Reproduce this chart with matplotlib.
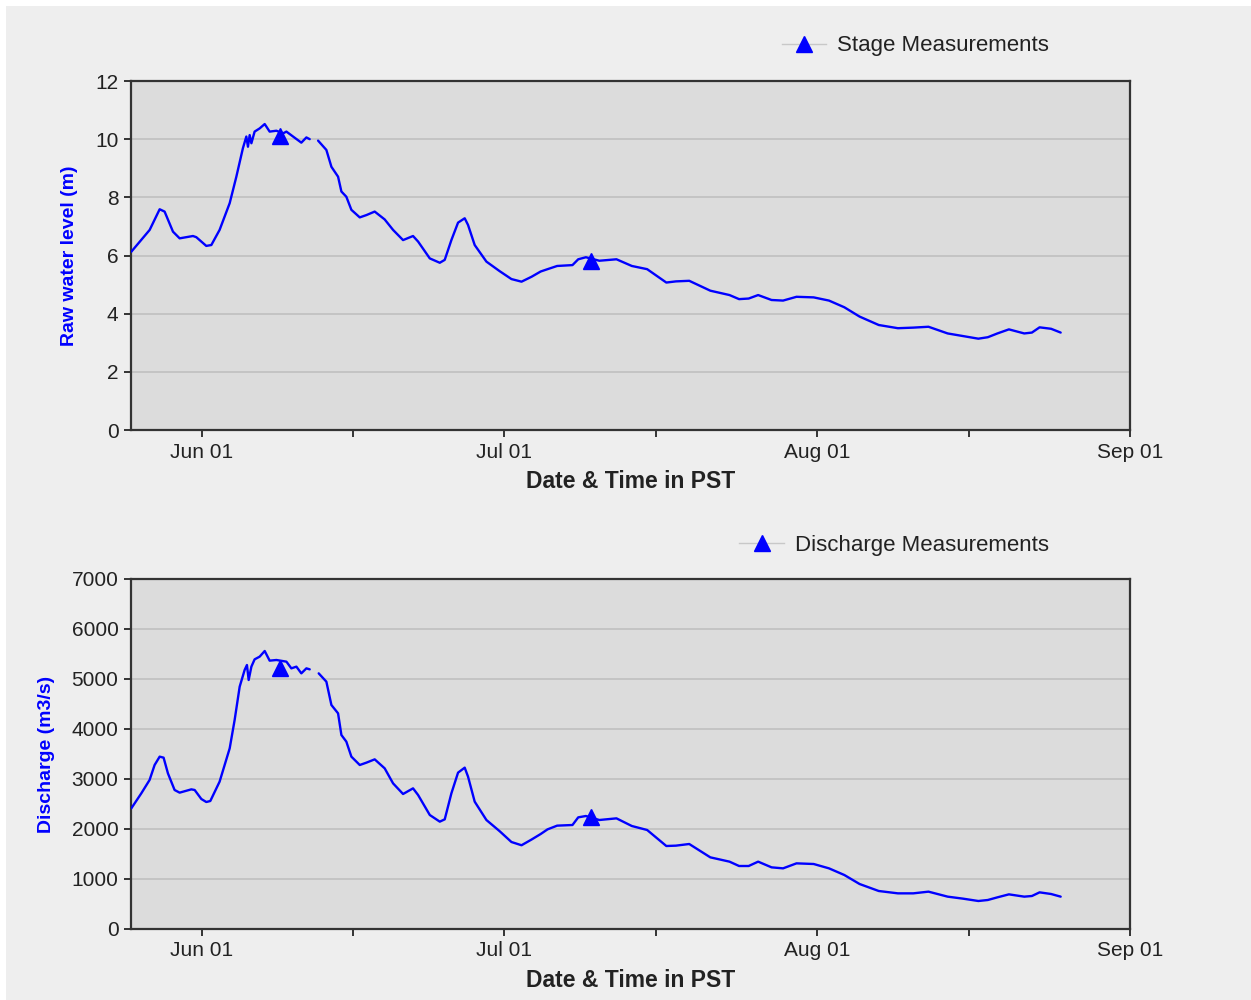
import numpy as np
import pandas as pd
import matplotlib
matplotlib.use("Agg")
import matplotlib.pyplot as plt
import matplotlib.dates as mdates
from matplotlib.lines import Line2D
from matplotlib.patches import Rectangle

plt.rcParams['font.family'] = ['Liberation Sans', 'DejaVu Sans']

# hydrometric record, time in days after Jun 01 (PST)
base_date = pd.Timestamp('2012-06-01')

stage_days = [-6.97, -5.15, -4.16, -3.67, -2.84, -2.18, -0.86, -0.53, 0.46, 0.96,
              1.78, 2.78, 3.44, 4.09, 4.43, 4.59, 4.76, 4.93, 5.25, 5.75,
              6.25, 6.74, 7.41, 8.07, 8.40, 9.06, 9.88, 10.38, 10.71, 11.1,
              11.54, 12.36, 12.86, 13.52, 13.85, 14.34, 14.84, 15.67, 16.33, 17.15,
              18.14, 18.97, 19.96, 20.95, 21.45, 22.61, 23.6, 24.09, 24.75, 25.41,
              26.07, 26.4, 27.06, 28.22, 29.54, 30.7, 31.7, 32.7, 33.6, 34.28,
              35.23, 36.75, 37.32, 38.08, 39.41, 41.11, 42.63, 44.15, 46.05, 47.0,
              48.32, 50.41, 52.31, 53.26, 54.21, 55.15, 56.48, 57.62, 58.95, 60.65,
              62.17, 63.69, 65.2, 67.1, 69.0, 70.52, 72.03, 73.93, 75.45, 76.97,
              77.91, 78.86, 80.0, 81.52, 82.28, 83.04, 84.18, 85.13]
stage_level = [6.13, 6.88, 7.59, 7.51, 6.82, 6.59, 6.67, 6.63, 6.33, 6.36,
               6.88, 7.80, 8.71, 9.69, 10.09, 9.74, 10.14, 9.86, 10.26, 10.37,
               10.52, 10.26, 10.29, 10.20, 10.26, 10.09, 9.88, 10.06, 10.0, np.nan,
               9.95, 9.63, 9.05, 8.71, 8.20, 8.02, 7.57, 7.31, 7.39, 7.51,
               7.24, 6.88, 6.53, 6.67, 6.48, 5.90, 5.75, 5.85, 6.53, 7.13,
               7.28, 7.05, 6.36, 5.79, 5.46, 5.19, 5.10, 5.27, 5.45, 5.53,
               5.64, 5.67, 5.87, 5.94, 5.82, 5.87, 5.64, 5.53, 5.07, 5.11,
               5.13, 4.79, 4.64, 4.50, 4.52, 4.64, 4.47, 4.45, 4.58, 4.56,
               4.45, 4.22, 3.90, 3.61, 3.50, 3.52, 3.55, 3.32, 3.23, 3.14,
               3.19, 3.32, 3.46, 3.32, 3.35, 3.53, 3.48, 3.35]

flow_days = [-6.97, -5.98, -5.16, -4.66, -4.16, -3.77, -3.34, -2.68, -2.18, -1.02,
             -0.69, -0.03, 0.46, 0.86, 1.78, 2.78, 3.27, 3.77, 4.26, 4.49,
             4.66, 4.93, 5.25, 5.75, 6.25, 6.74, 7.41, 8.40, 8.89, 9.39,
             9.88, 10.38, 10.71, 11.1, 11.6, 12.36, 12.86, 13.52, 13.85, 14.34,
             14.84, 15.67, 16.33, 17.15, 18.14, 18.97, 19.96, 20.95, 21.45, 22.61,
             23.6, 24.09, 24.75, 25.41, 26.07, 26.4, 27.06, 28.22, 29.54, 30.7,
             31.7, 32.7, 33.6, 34.28, 35.23, 36.75, 37.32, 38.08, 39.41, 41.11,
             42.63, 44.15, 46.05, 47.0, 48.32, 50.41, 52.31, 53.26, 54.21, 55.15,
             56.48, 57.62, 58.95, 60.65, 62.17, 63.69, 65.2, 67.1, 69.0, 70.52,
             72.03, 73.93, 75.45, 76.97, 77.91, 78.86, 80.0, 81.52, 82.28, 83.04,
             84.18, 85.13]
flow_rate = [2413, 2713, 2980, 3280, 3447, 3427, 3113, 2780, 2727, 2793,
             2780, 2600, 2540, 2560, 2947, 3613, 4180, 4847, 5180, 5280,
             4980, 5247, 5393, 5447, 5560, 5367, 5380, 5347, 5213, 5247,
             5113, 5213, 5193, np.nan, 5113, 4947, 4480, 4313, 3880, 3747,
             3447, 3280, 3327, 3393, 3213, 2913, 2700, 2813, 2680, 2280,
             2147, 2193, 2713, 3127, 3227, 3047, 2547, 2180, 1955, 1740,
             1675, 1790, 1900, 1993, 2067, 2080, 2233, 2260, 2180, 2213,
             2060, 1980, 1660, 1667, 1700, 1433, 1347, 1260, 1260, 1347,
             1233, 1213, 1313, 1300, 1213, 1080, 900, 760, 713, 713,
             747, 647, 607, 560, 580, 633, 693, 647, 660, 733,
             700, 647]

# field measurements
meas_days = [7.73, 38.56]
meas_stage = [10.1, 5.81]
meas_flow = [5230, 2250]


def to_dates(days):
    return base_date + pd.to_timedelta(np.array(days), unit='D')


fig = plt.figure(figsize=(12.51, 10), dpi=100)
fig.patch.set_facecolor('white')
fig.patches.append(Rectangle((6 / 1251, 0), 1, 1 - 6 / 1000, transform=fig.transFigure,
                             facecolor='#eeeeee', edgecolor='none', zorder=-10))

ax1 = fig.add_axes([131 / 1251, 0.570, 999 / 1251, 0.349])
ax2 = fig.add_axes([131 / 1251, 0.071, 999 / 1251, 0.350])

panels = [
    (ax1, stage_days, stage_level, meas_stage, 'Raw water level (m)',
     'Stage Measurements', (0, 12), 2, 1 - 46 / 1000),
    (ax2, flow_days, flow_rate, meas_flow, 'Discharge (m3/s)',
     'Discharge Measurements', (0, 7000), 1000, 1 - 545 / 1000),
]

for ax, days, vals, meas, ylab, leg_label, ylim, ystep, leg_y in panels:
    ax.set_facecolor('#dcdcdc')
    ax.plot(to_dates(days), vals, color='#0000ff', lw=1.7, zorder=3,
            solid_joinstyle='round', solid_capstyle='round')
    ax.plot(to_dates(meas_days), meas, linestyle='none', marker='^', markersize=12,
            color='#0000ff', zorder=4)

    ax.set_xlim(pd.Timestamp('2012-05-25'), pd.Timestamp('2012-09-01'))
    ax.set_ylim(*ylim)
    ax.set_yticks(np.arange(ylim[0], ylim[1] + ystep, ystep))
    ax.xaxis.set_major_locator(mdates.MonthLocator())
    ax.xaxis.set_major_formatter(mdates.DateFormatter('%b %d'))
    ax.xaxis.set_minor_locator(mdates.DayLocator(bymonthday=16))

    ax.grid(axis='y', color='#c2c2c2', lw=1.3, zorder=1)
    ax.set_axisbelow(True)
    for s in ax.spines.values():
        s.set_color('#333333')
        s.set_linewidth(1.6)
    ax.tick_params(which='both', direction='out', length=5, width=1.4,
                   color='#333333', labelsize=15, labelcolor='#222222', pad=4)

    ax.set_xlabel('Date & Time in PST', fontsize=16.5, fontweight='bold',
                  color='#222222', labelpad=6)
    ax.set_ylabel(ylab, fontsize=14, fontweight='bold', color='#0000ff', labelpad=12)

    handle = Line2D([], [], color='#c8c8c8', lw=1, marker='^', markersize=12,
                    markerfacecolor='#0000ff', markeredgecolor='#0000ff')
    ax.legend([handle], [leg_label], loc='center right', frameon=False,
              bbox_to_anchor=(1049 / 1251, leg_y), bbox_transform=fig.transFigure,
              fontsize=16, handlelength=2.0, handletextpad=0.5,
              borderpad=0, borderaxespad=0, labelcolor='#222222')

fig.savefig('out.png', dpi=100, facecolor=fig.get_facecolor())
